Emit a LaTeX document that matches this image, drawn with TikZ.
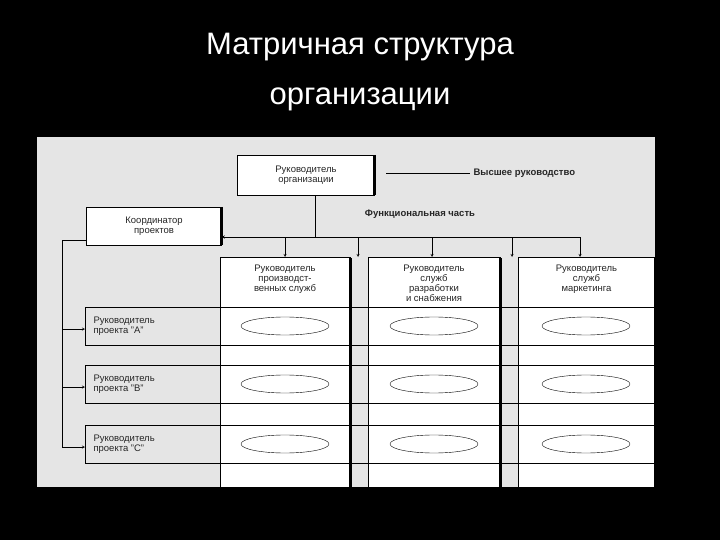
\documentclass[tikz,border=0pt]{standalone}
\usepackage{fontspec}
\setmainfont{Liberation Sans}
\usetikzlibrary{shapes.geometric}
\begin{document}
\begin{tikzpicture}[x=1pt,y=-1pt,
  bx/.style={draw,thin,fill=white,inner sep=0pt},
  lbl/.style={font=\fontsize{9.5}{10}\selectfont,align=center,text=black!85},
  el/.style={draw,ellipse,minimum width=88pt,minimum height=18pt,inner sep=0pt},
  arr/.style={->,>=stealth}]
\fill[black] (0,0) rectangle (720,540);
\node[white,font=\fontsize{31}{50}\selectfont,align=center] (title) at (360,72) {Матричная структура\\организации};
\fill[black!10] (37,137) rectangle (655,487);
% columns
\foreach \n/\a/\b/\t in {c1/220/350/{Руководитель\\производст-\\венных служб},c2/368/500/{Руководитель\\служб\\разработки\\и снабжения},c3/518/655/{Руководитель\\служб\\маркетинга}}{
  \draw[bx] (\a,257) rectangle (\b,487);
  \draw[line width=3pt] (\b,258) -- (\b,487);
  \node[lbl,anchor=north] (\n) at ({(\a+\b)/2},261) {\t};
  \coordinate (\n t) at ({(\a+\b)/2},257);
}
% rows
\foreach \r/\y/\t in {A/307/{Руководитель\\проекта ''А''},B/365/{Руководитель\\проекта ''В''},C/425/{Руководитель\\проекта ''С''}}{
  \draw (85,\y) rectangle (655,\y+38);
  \node[lbl,anchor=west,align=left] (r\r) at (90,\y+19) {\t};
  \coordinate (r\r w) at (85,\y+22);
  \foreach \x in {285,434,586} \node[el] at (\x,\y+19) {};
}
% top box
\node[bx,minimum width=137pt,minimum height=40pt,lbl] (top) at (306,175) {Руководитель\\организации};
\draw[line width=3pt] (top.north east) -- (top.south east);
\node[lbl,font=\bfseries\fontsize{9.5}{10}\selectfont,anchor=west] (hi) at (470,173) {Высшее руководство};
\coordinate (hl) at (386,173);
\draw (hl) -- (hi.west);
% coordinator
\node[bx,minimum width=135pt,minimum height=38pt,lbl] (co) at (154,226) {Координатор\\проектов};
\draw[line width=3pt] (co.north east) -- (co.south east);
\node[lbl,font=\bfseries\fontsize{9.5}{10}\selectfont] (fn) at (420,214) {Функциональная часть};
\coordinate (j) at (315,237);
\coordinate (je) at (580,237);
\draw (top.south -| j) -- (j);
\draw[arr] (je) -- (co.east |- j);
\foreach \x in {285,358,432,512,580} \draw[arr] (\x,237) -- (\x,257);
% left feed
\coordinate (lv) at (62,240);
\draw (co.west |- lv) -- (lv) -- (62,447);
\foreach \r in {A,B,C} \draw[arr] (lv |- r\r w) -- (r\r w);
\end{tikzpicture}
\end{document}
